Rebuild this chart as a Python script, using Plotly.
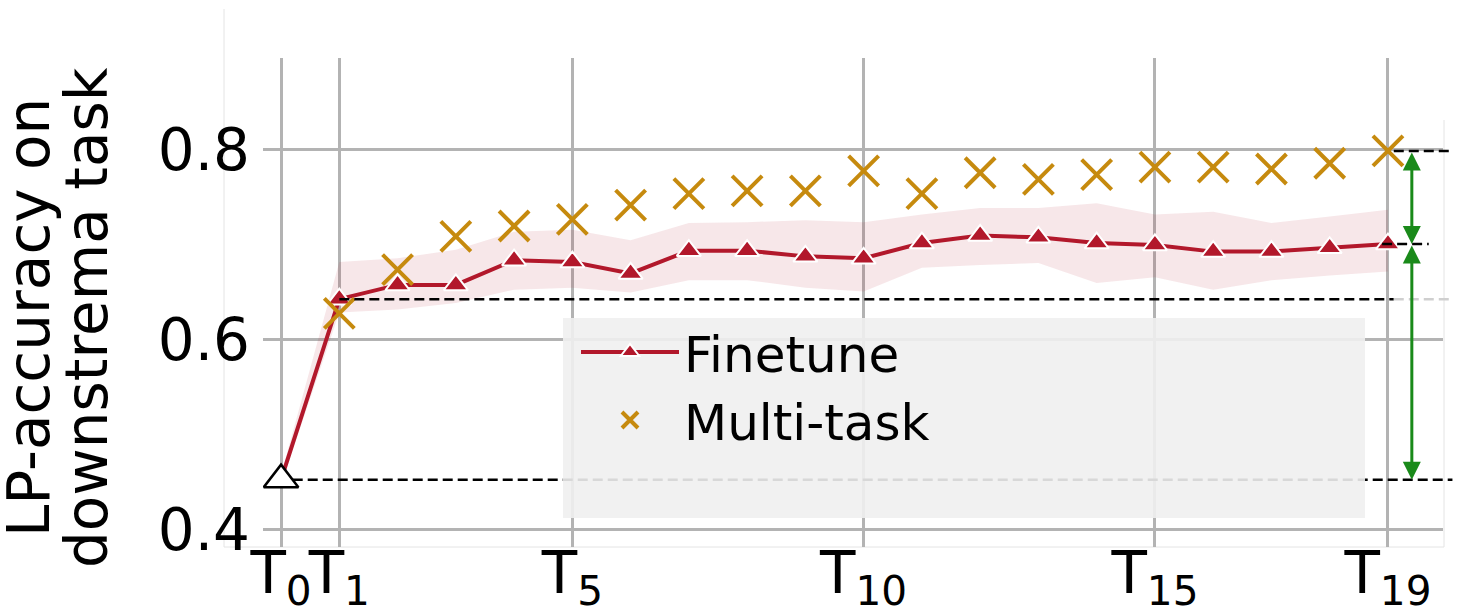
import plotly.graph_objects as go

# ---- data -------------------------------------------------------------
steps = list(range(20))
tick_steps = [0, 1, 5, 10, 15, 19]
tick_labels = ["T<sub>0</sub>", "T<sub>1</sub>", "T<sub>5</sub>",
               "T<sub>10</sub>", "T<sub>15</sub>", "T<sub>19</sub>"]

finetune = [0.453, 0.643, 0.658, 0.658, 0.684, 0.682, 0.670, 0.694, 0.694, 0.688,
            0.686, 0.702, 0.710, 0.708, 0.702, 0.700, 0.693, 0.693, 0.697, 0.701]
finetune_lo = [0.448, 0.629, 0.632, 0.639, 0.653, 0.655, 0.650, 0.663, 0.663, 0.655,
               0.651, 0.676, 0.679, 0.681, 0.660, 0.666, 0.653, 0.663, 0.668, 0.672]
finetune_hi = [0.458, 0.682, 0.686, 0.695, 0.714, 0.716, 0.705, 0.723, 0.724, 0.726,
               0.724, 0.732, 0.739, 0.739, 0.744, 0.732, 0.735, 0.723, 0.730, 0.737]

multitask_steps = list(range(1, 20))
multitask = [0.628, 0.674, 0.709, 0.720, 0.727, 0.742, 0.754, 0.757, 0.757, 0.778,
             0.754, 0.776, 0.769, 0.774, 0.782, 0.782, 0.780, 0.786, 0.799]

y_ticks = [0.4, 0.6, 0.8]

# ---- style / geometry ---------------------------------------------------
W, H = 1466, 608
ML, MR, MT, MB = 263, 23, 58, 61
X_RANGE = [-0.31, 19.945]
Y_RANGE = [0.3821, 0.8968]
FONT = "DejaVu Sans"
RED = "#b2182b"
GOLD = "#c68a0e"
GREEN = "#1a8a1a"
GRID = "#b3b3b3"

PW, PH = W - ML - MR, H - MT - MB


def xp(x):
    """data x -> paper x"""
    return (x - X_RANGE[0]) / (X_RANGE[1] - X_RANGE[0])


def px_x(p):
    """pixel column -> paper x"""
    return (p - ML) / PW


def px_y(p):
    """pixel row -> paper y"""
    return (H - MB - p) / PH


fig = go.Figure()

# spread band around the fine-tuning curve
fig.add_trace(go.Scatter(x=steps, y=finetune_lo, mode="lines",
                         line=dict(width=0, color="rgba(0,0,0,0)"),
                         showlegend=False, hoverinfo="skip"))
fig.add_trace(go.Scatter(x=steps, y=finetune_hi, mode="lines",
                         line=dict(width=0, color="rgba(0,0,0,0)"),
                         fill="tonexty", fillcolor="rgba(178,24,43,0.10)",
                         showlegend=False, hoverinfo="skip"))

fig.add_trace(go.Scatter(
    x=steps, y=finetune, mode="lines+markers", name="Finetune",
    line=dict(color=RED, width=4),
    marker=dict(symbol="triangle-up", size=21, color=RED,
                line=dict(color="white", width=2)),
))

# starting point (before any task)
fig.add_trace(go.Scatter(
    x=steps[:1], y=finetune[:1], mode="markers", showlegend=False,
    marker=dict(symbol="triangle-up", size=30, color="white",
                line=dict(color="black", width=2.5)),
))

fig.add_trace(go.Scatter(
    x=multitask_steps, y=multitask, mode="markers", name="Multi-task",
    marker=dict(symbol="x-thin", size=30, color=GOLD,
                line=dict(color=GOLD, width=4)),
))

# ---- reference levels (dashed) ----------------------------------------
dash = dict(color="black", width=2.5, dash="10px,5px")
base, first, last_ft, last_mt = finetune[0], finetune[1], finetune[-1], multitask[-1]
shapes = [
    dict(type="line", xref="paper", yref="y", x0=xp(0.2), x1=1.008,
         y0=base, y1=base, line=dash, layer="above"),
    dict(type="line", xref="paper", yref="y", x0=xp(1), x1=xp(19.1),
         y0=first, y1=first, line=dash, layer="above"),
    dict(type="line", xref="paper", yref="y", x0=xp(19.1), x1=1.008,
         y0=first, y1=first, line=dict(color="#cfcfcf", width=2.5, dash="10px,5px"),
         layer="above"),
    dict(type="line", xref="paper", yref="y", x0=xp(18.9), x1=xp(19.7),
         y0=last_ft, y1=last_ft, line=dash, layer="above"),
    dict(type="line", xref="paper", yref="y", x0=xp(19.1), x1=1.008,
         y0=last_mt, y1=last_mt, line=dash, layer="above"),
]

# faint outer frame
frame = dict(color="#e4e4e4", width=1)
shapes += [
    dict(type="line", xref="paper", yref="paper", x0=px_x(224), x1=px_x(224),
         y0=px_y(547), y1=px_y(9), line=frame, layer="below"),
    dict(type="line", xref="paper", yref="paper", x0=px_x(224), x1=px_x(1444),
         y0=px_y(547), y1=px_y(547), line=frame, layer="below"),
    dict(type="line", xref="paper", yref="paper", x0=px_x(1444), x1=px_x(1444),
         y0=px_y(547), y1=px_y(120), line=frame, layer="below"),
]

# legend panel
shapes.append(dict(type="rect", xref="paper", yref="paper",
                   x0=px_x(563), x1=px_x(1365), y0=px_y(518), y1=px_y(318),
                   fillcolor="rgba(240,240,240,0.9)", line=dict(width=0),
                   layer="above"))

# ---- gap arrows ---------------------------------------------------------
arrow_x = 19.41
annotations = []
for y_top, y_bot in [(last_mt, last_ft), (last_ft, base)]:
    annotations.append(dict(
        x=arrow_x, y=y_bot, ax=arrow_x, ay=y_top, xref="x", yref="y",
        axref="x", ayref="y", text="", showarrow=True,
        arrowhead=2, startarrowhead=2, arrowside="end+start",
        arrowsize=1.2, startarrowsize=1.2, arrowwidth=3, arrowcolor=GREEN,
    ))

# two-line y-axis title
for txt, xpix in [("LP-accuracy on", 29), ("downstrema task", 87)]:
    annotations.append(dict(
        text=txt, textangle=-90, xref="paper", yref="paper",
        x=px_x(xpix), y=px_y(318), xanchor="center", yanchor="middle",
        showarrow=False, font=dict(family=FONT, size=58, color="black"),
    ))

fig.update_layout(
    width=W, height=H,
    margin=dict(l=ML, r=MR, t=MT, b=MB, pad=0, autoexpand=False),
    paper_bgcolor="white", plot_bgcolor="white",
    font=dict(family=FONT, color="black"),
    shapes=shapes, annotations=annotations,
    showlegend=True,
    legend=dict(
        x=px_x(576), y=px_y(313), xanchor="left", yanchor="top",
        bgcolor="rgba(0,0,0,0)", borderwidth=0,
        font=dict(family=FONT, size=50, color="black"),
        itemwidth=98, traceorder="normal",
    ),
    xaxis=dict(
        range=X_RANGE, tickmode="array", tickvals=tick_steps, ticktext=tick_labels,
        showgrid=True, gridcolor=GRID, gridwidth=3, zeroline=False, showline=False,
        ticks="", tickangle=0, automargin=False, ticklabelstandoff=-13,
        tickfont=dict(family=FONT, size=58, color="black"),
        fixedrange=True,
    ),
    yaxis=dict(
        range=Y_RANGE, tickmode="array", tickvals=y_ticks,
        ticktext=[f"{v:.1f}" for v in y_ticks],
        showgrid=True, gridcolor=GRID, gridwidth=3, zeroline=False, showline=False,
        ticks="", ticklabelstandoff=12, automargin=False,
        tickfont=dict(family=FONT, size=58, color="black"),
        fixedrange=True,
    ),
)

fig.write_html("out.html")
